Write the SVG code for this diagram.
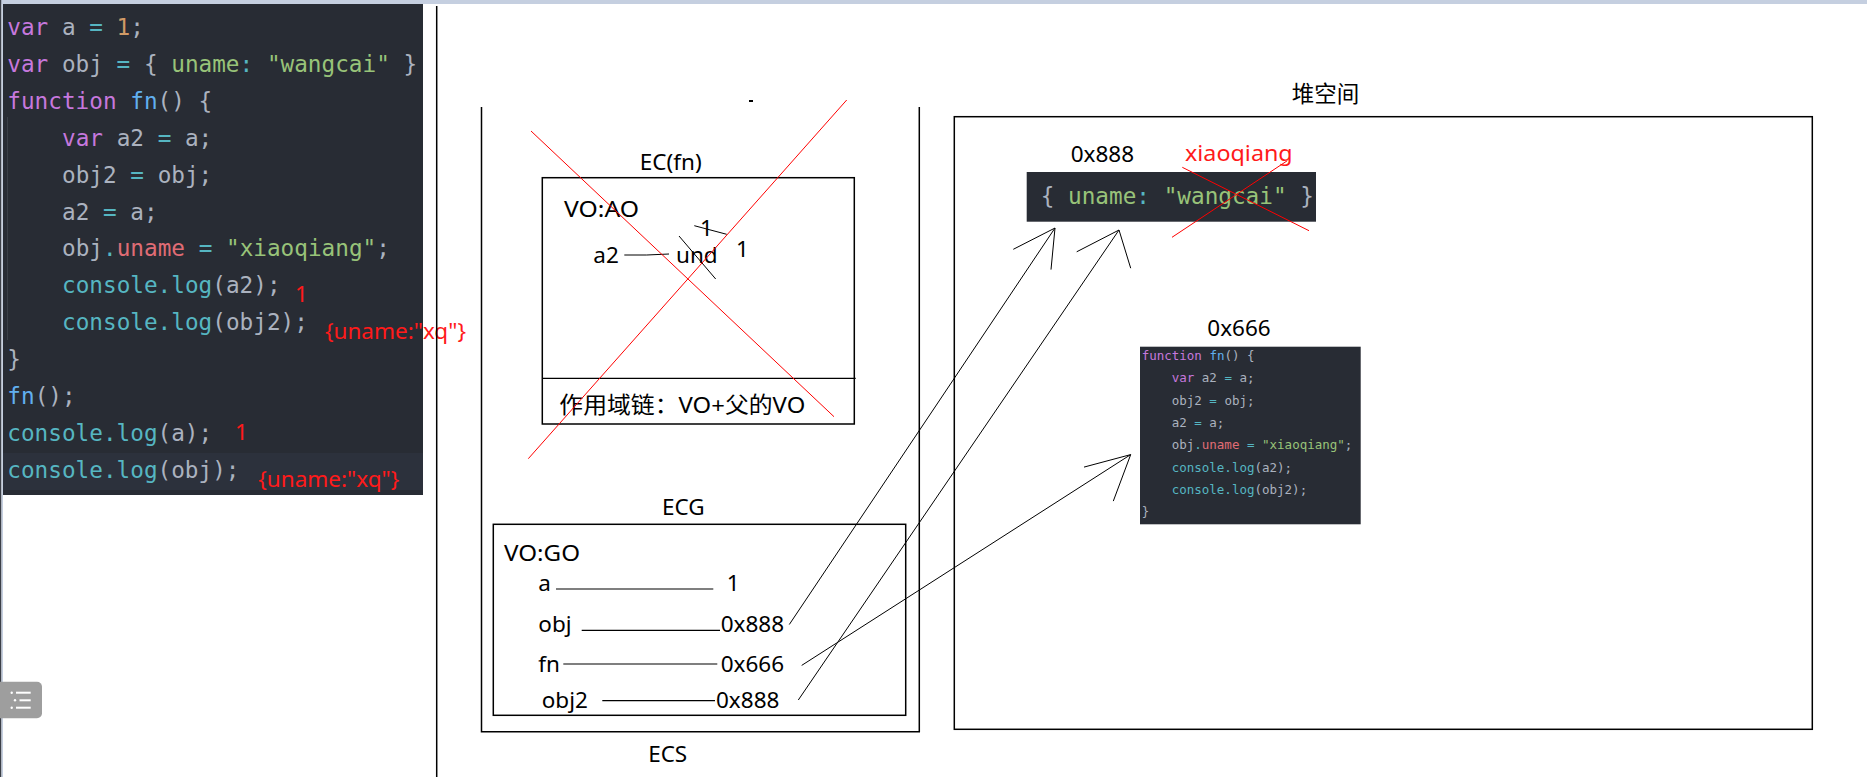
<svg xmlns="http://www.w3.org/2000/svg" width="1867" height="777" viewBox="0 0 1867 777">
<style>
.code{font-family:"DejaVu Sans Mono","Liberation Mono",monospace;font-size:22.7px;fill:#abb2bf}
.sc{font-family:"DejaVu Sans Mono","Liberation Mono",monospace;font-size:12.5px;fill:#abb2bf}
.k{fill:#c678dd}.v{fill:#abb2bf}.o{fill:#56b6c2}.n{fill:#d19a66}.s{fill:#98c379}.f{fill:#61afef}.c{fill:#56b6c2}.p{fill:#e06c75}
.lbl{font-family:"Noto Sans","Noto Sans CJK SC","Liberation Sans",sans-serif;font-size:22.5px;fill:#000}
.red{font-family:"Noto Sans","Noto Sans CJK SC","Liberation Sans",sans-serif;font-size:22.5px;fill:#ff1a1a}
.box{fill:none;stroke:#000;stroke-width:1.5}
.ln{stroke:#000;stroke-width:1.2;fill:none}
.rx{stroke:#ff0000;stroke-width:1;fill:none}
.cn{stroke:#000;stroke-width:1;fill:none}
</style>
<rect x="0" y="0" width="1867" height="777" fill="#ffffff"/>
<rect x="0" y="0" width="1867" height="4" fill="#c5cfe0"/>
<rect x="0" y="0" width="1.5" height="777" fill="#3c4048"/>
<rect x="1.5" y="0" width="1.5" height="777" fill="#c5cfe0"/>

<g id="code-panel">
<rect x="3" y="4" width="420" height="491" fill="#282c34"/>
<rect x="3" y="453" width="420" height="37" fill="#2c313c"/>
<line x1="7.5" y1="117" x2="7.5" y2="340" stroke="#3b4048" stroke-width="1"/>
<text class="code" xml:space="preserve"><tspan x="7.3" y="35"><tspan class="k">var</tspan> a <tspan class="o">=</tspan> <tspan class="n">1</tspan>;</tspan><tspan x="7.3" y="71.9"><tspan class="k">var</tspan> obj <tspan class="o">=</tspan> { <tspan class="s">uname</tspan><tspan class="o">:</tspan> <tspan class="s">"wangcai"</tspan> }</tspan><tspan x="7.3" y="108.8"><tspan class="k">function</tspan> <tspan class="f">fn</tspan>() {</tspan><tspan x="62" y="145.7"><tspan class="k">var</tspan> a2 <tspan class="o">=</tspan> a;</tspan><tspan x="62" y="182.6">obj2 <tspan class="o">=</tspan> obj;</tspan><tspan x="62" y="219.5">a2 <tspan class="o">=</tspan> a;</tspan><tspan x="62" y="256.4">obj<tspan class="o">.</tspan><tspan class="p">uname</tspan> <tspan class="o">=</tspan> <tspan class="s">"xiaoqiang"</tspan>;</tspan><tspan x="62" y="293.3"><tspan class="c">console.log</tspan>(a2);</tspan><tspan x="62" y="330.2"><tspan class="c">console.log</tspan>(obj2);</tspan><tspan x="7.3" y="367.1">}</tspan><tspan x="7.3" y="404"><tspan class="f">fn</tspan>();</tspan><tspan x="7.3" y="440.9"><tspan class="c">console.log</tspan>(a);</tspan><tspan x="7.3" y="477.8"><tspan class="c">console.log</tspan>(obj);</tspan></text>
<text class="red" x="295" y="301.7">1</text>
<text class="red" x="325" y="339">{uname:"xq"}</text>
<text class="red" x="235" y="440">1</text>
<text class="red" x="258.3" y="487.3">{uname:"xq"}</text>
</g>

<g id="menu-icon">
<rect x="-6" y="681.7" width="48" height="36.6" rx="5" fill="#9e9e9e"/>
<circle cx="11.7" cy="692.7" r="1.2" fill="#fff"/>
<circle cx="15" cy="700.3" r="1.2" fill="#fff"/>
<circle cx="11.7" cy="707.7" r="1.2" fill="#fff"/>
<line x1="16" y1="692.7" x2="30.7" y2="692.7" stroke="#fff" stroke-width="2"/>
<line x1="19.5" y1="700.3" x2="30.7" y2="700.3" stroke="#fff" stroke-width="2"/>
<line x1="16" y1="707.7" x2="30.7" y2="707.7" stroke="#fff" stroke-width="2"/>
</g>

<line x1="436.7" y1="6" x2="436.7" y2="777" stroke="#000" stroke-width="1.5"/>

<g id="ecs">
<path class="box" d="M481.5 107 V731.7 H919.3 V107"/>
<line x1="749" y1="101" x2="753" y2="101" stroke="#000" stroke-width="2"/>
<text class="lbl" x="667.7" y="761.7" text-anchor="middle">ECS</text>
</g>

<g id="ec-fn">
<rect class="box" x="542.3" y="177.7" width="312" height="246.3"/>
<line class="ln" x1="542.3" y1="378.3" x2="855.7" y2="378.3"/>
<text class="lbl" x="670.7" y="170" text-anchor="middle">EC(fn)</text>
<text class="lbl" x="564" y="216.7" textLength="75" lengthAdjust="spacingAndGlyphs">VO:AO</text>
<text class="lbl" x="593.3" y="262.7">a2</text>
<path class="cn" d="M624.3 255 H646.7 L669 254"/>
<text class="lbl" x="676" y="262.7">und</text>
<text class="lbl" x="700" y="235.5" font-size="21">1</text>
<line class="cn" x1="694.3" y1="225.7" x2="726.7" y2="234.3"/>
<line class="cn" x1="679" y1="236" x2="715.7" y2="279"/>
<text class="lbl" x="736" y="256.7">1</text>
<text class="lbl" x="559.3" y="413.3" textLength="246" lengthAdjust="spacingAndGlyphs">作用域链：VO+父的VO</text>
<line class="rx" x1="531" y1="131" x2="834" y2="416.7"/>
<line class="rx" x1="846.7" y1="100" x2="528.3" y2="458.7"/>
</g>

<g id="ecg">
<rect class="box" x="493.3" y="524.3" width="412.4" height="191"/>
<text class="lbl" x="683.3" y="515" text-anchor="middle">ECG</text>
<text class="lbl" x="504" y="560.7" textLength="76" lengthAdjust="spacingAndGlyphs">VO:GO</text>
<text class="lbl" x="538.3" y="591">a</text>
<line class="ln" x1="556" y1="589" x2="713.3" y2="589"/>
<text class="lbl" x="726.7" y="591">1</text>
<text class="lbl" x="538.3" y="631.7">obj</text>
<line class="ln" x1="581.7" y1="630.3" x2="720" y2="630.3"/>
<text class="lbl" x="720.7" y="631.7">0x888</text>
<text class="lbl" x="538.3" y="671.7">fn</text>
<line class="ln" x1="563.3" y1="664" x2="717.3" y2="664"/>
<text class="lbl" x="720.7" y="671.7">0x666</text>
<text class="lbl" x="541.7" y="708.3">obj2</text>
<line class="ln" x1="602.3" y1="700.7" x2="715" y2="700.7"/>
<text class="lbl" x="716" y="708.3">0x888</text>
</g>

<g id="heap">
<rect class="box" x="954.3" y="116.7" width="858" height="612.6"/>
<text class="lbl" x="1325.5" y="101.7" text-anchor="middle">堆空间</text>
</g>

<g id="obj-0x888">
<text class="lbl" x="1070.7" y="161.7">0x888</text>
<rect x="1026.7" y="172" width="289.3" height="49.7" fill="#282c34"/>
<text class="code" x="1040.7" y="204" xml:space="preserve">{ <tspan class="s">uname</tspan><tspan class="o">:</tspan> <tspan class="s">"wangcai"</tspan> }</text>
<text class="red" x="1185" y="160.7" textLength="107.7" lengthAdjust="spacingAndGlyphs">xiaoqiang</text>
<line class="rx" x1="1182.3" y1="167.3" x2="1309" y2="230.7"/>
<line class="rx" x1="1287.3" y1="160.7" x2="1172" y2="237.3"/>
</g>

<g id="fn-0x666">
<text class="lbl" x="1207.3" y="336">0x666</text>
<rect x="1140" y="346.7" width="220.7" height="177.6" fill="#282c34"/>
<text class="sc" xml:space="preserve"><tspan x="1141.7" y="360"><tspan class="k">function</tspan> <tspan class="f">fn</tspan>() {</tspan><tspan x="1171.7" y="382.3"><tspan class="k">var</tspan> a2 <tspan class="o">=</tspan> a;</tspan><tspan x="1171.7" y="404.6">obj2 <tspan class="o">=</tspan> obj;</tspan><tspan x="1171.7" y="426.9">a2 <tspan class="o">=</tspan> a;</tspan><tspan x="1171.7" y="449.2">obj<tspan class="o">.</tspan><tspan class="p">uname</tspan> <tspan class="o">=</tspan> <tspan class="s">"xiaoqiang"</tspan>;</tspan><tspan x="1171.7" y="471.5"><tspan class="c">console.log</tspan>(a2);</tspan><tspan x="1171.7" y="493.8"><tspan class="c">console.log</tspan>(obj2);</tspan><tspan x="1141.7" y="516.1">}</tspan></text>
</g>

<g id="connectors">
<path class="cn" d="M789.3 624.5 L1055 228 M1013.3 249.3 L1055 228 L1051 269.6"/>
<path class="cn" d="M798.3 700 L1119 230 M1076.7 251.8 L1119 230 L1130.7 268.2"/>
<path class="cn" d="M801.7 665.4 L1130.7 454.6 M1084 467.1 L1130.7 454.6 L1113.3 501.1"/>
</g>
</svg>
